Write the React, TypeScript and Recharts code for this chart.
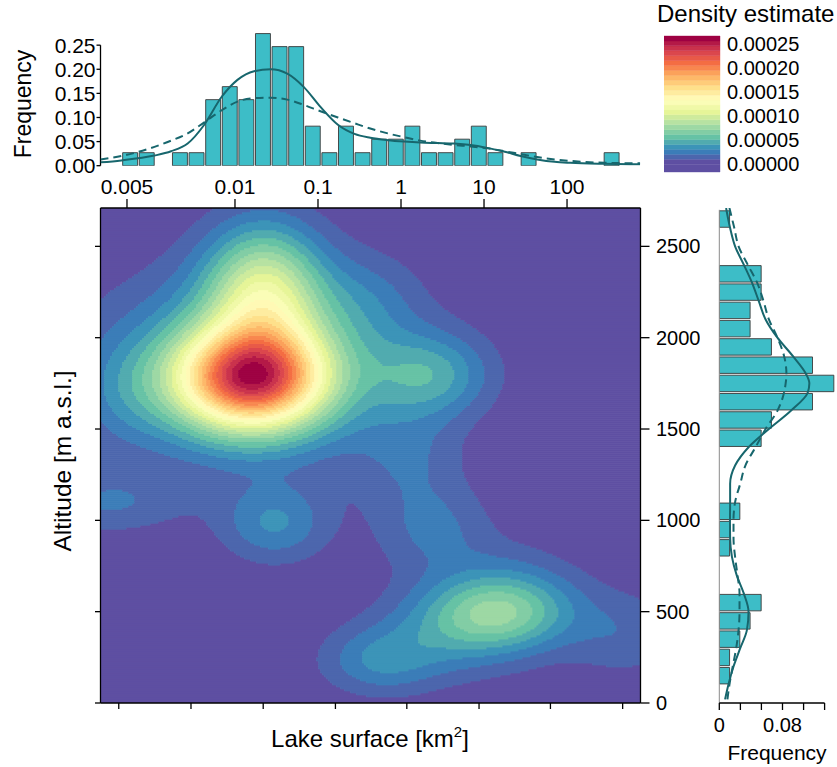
import React from 'react'
import {
  ComposedChart,
  LineChart,
  ScatterChart,
  Bar,
  Line,
  Scatter,
  XAxis,
  YAxis,
  ReferenceArea,
  ReferenceLine,
} from 'recharts'

const FONT = '"Liberation Sans", Arial, Helvetica, sans-serif'
const BAR_FILL = '#3dbdc7'
const BAR_STROKE = '#3a3a3a'
const CURVE = '#17666d'

// shared x scale: log10(lake surface, km2)
const X_MIN = -3.62
const X_MAX = 2.885
const ALT_MAX = 2710

// top histogram (log10 bin centres, frequency)
const surfaceBins = [
  -3.265, -3.065, -2.865, -2.665, -2.465, -2.265, -2.065, -1.865, -1.665, -1.465,
  -1.265, -1.065, -0.865, -0.665, -0.465, -0.265, -0.065, 0.135, 0.335, 0.535,
  0.735, 0.935, 1.135, 1.335, 1.535, 1.735, 1.935, 2.135, 2.335, 2.535,
]
const surfaceFreq = [
  0.027, 0.027, 0, 0.027, 0.027, 0.137, 0.164, 0.137, 0.274, 0.247,
  0.247, 0.082, 0.027, 0.082, 0.027, 0.055, 0.055, 0.082, 0.027, 0.027,
  0.055, 0.082, 0.027, 0, 0.027, 0, 0, 0, 0, 0.027,
]
const surfaceCurveX = [
  -3.62, -3.37, -2.97, -2.77, -2.57, -2.37, -2.16, -1.97, -1.77, -1.57,
  -1.37, -1.17, -0.97, -0.76, -0.56, -0.37, -0.16, 0.04, 0.23, 0.44,
  0.64, 0.84, 1.04, 1.25, 1.44, 1.64, 1.85, 2.04, 2.45, 2.88,
]
const surfaceKde = [
  0.007, 0.011, 0.021, 0.03, 0.046, 0.085, 0.143, 0.178, 0.196, 0.2,
  0.191, 0.163, 0.122, 0.085, 0.066, 0.058, 0.053, 0.05, 0.048, 0.047,
  0.046, 0.043, 0.037, 0.029, 0.02, 0.013, 0.008, 0.006, 0.004, 0.003,
]
const surfaceNormal = [
  0.013, 0.02, 0.039, 0.052, 0.067, 0.09, 0.115, 0.133, 0.14, 0.141,
  0.137, 0.126, 0.113, 0.1, 0.088, 0.077, 0.067, 0.059, 0.052, 0.047,
  0.043, 0.04, 0.036, 0.03, 0.024, 0.018, 0.013, 0.01, 0.006, 0.005,
]
const surfaceFreqTicks = [0, 0.05, 0.1, 0.15, 0.2, 0.25]
const surfaceTickValues = [-3.301, -2, -1, 0, 1, 2]
const surfaceTickLabels = ['0.005', '0.01', '0.1', '1', '10', '100']
const bottomTickValues = [-3.4, -2.53, -1.66, -0.79, 0.07, 0.94, 1.8, 2.67]

// right histogram (altitude bin centres, frequency)
const altitudeBins = [
  150, 250, 350, 450, 550, 650, 750, 850, 950, 1050, 1150, 1250, 1350,
  1450, 1550, 1650, 1750, 1850, 1950, 2050, 2150, 2250, 2350, 2450, 2550, 2650,
]
const altitudeFreq = [
  0.013, 0.013, 0.026, 0.039, 0.053, 0, 0, 0.013, 0.013, 0.026, 0, 0, 0,
  0.053, 0.066, 0.118, 0.145, 0.118, 0.066, 0.039, 0.039, 0.053, 0.053, 0, 0, 0.013,
]
const altitudeCurveY = [
  2710, 2600, 2500, 2400, 2300, 2200, 2100, 2000, 1900, 1800, 1750, 1700, 1600, 1500, 1400,
  1300, 1200, 1100, 1000, 900, 800, 700, 600, 500, 400, 300, 200, 100, 20,
]
const altitudeKde = [
  0.0086, 0.0137, 0.02, 0.031, 0.0415, 0.05, 0.0586, 0.0736, 0.093, 0.11, 0.114, 0.112, 0.0906, 0.0628, 0.037,
  0.02, 0.0137, 0.0137, 0.0135, 0.0137, 0.016, 0.022, 0.031, 0.037, 0.035, 0.0265, 0.018, 0.0115, 0.0073,
]
const altitudeNormal = [
  0.0128, 0.019, 0.0244, 0.036, 0.048, 0.056, 0.0628, 0.0736, 0.082, 0.085, 0.084, 0.082, 0.0736, 0.0586, 0.0458,
  0.033, 0.0265, 0.02, 0.018, 0.018, 0.02, 0.023, 0.0256, 0.0256, 0.0244, 0.0214, 0.017, 0.0128, 0.0103,
]
const altitudeTicks = [0, 500, 1000, 1500, 2000, 2500]
const altFreqTicks = [0, 0.0267, 0.0533, 0.08, 0.1067, 0.1333]

// density estimate: modes (log10 area, altitude, spread, peak)
const densityModes = [
  { x: -1.8, y: 1777, sx: 0.62, sy: 190, peak: 0.0002 },
  { x: -1.65, y: 2250, sx: 0.48, sy: 250, peak: 0.00009 },
  { x: -1.8, y: 1850, sx: 1.2, sy: 350, peak: 0.00005 },
  { x: 0.35, y: 1800, sx: 0.5, sy: 160, peak: 0.00004 },
  { x: -0.4, y: 2200, sx: 0.45, sy: 180, peak: 0.000015 },
  { x: -3.3, y: 1700, sx: 0.4, sy: 200, peak: 0.000015 },
  { x: 0.1, y: 1350, sx: 0.45, sy: 200, peak: 0.000016 },
  { x: -1.52, y: 985, sx: 0.45, sy: 150, peak: 0.00003 },
  { x: -3.55, y: 1100, sx: 0.65, sy: 120, peak: 0.00002 },
  { x: 0.4, y: 950, sx: 0.5, sy: 180, peak: 0.000021 },
  { x: 1.2, y: 500, sx: 0.6, sy: 140, peak: 0.000058 },
  { x: 0.65, y: 380, sx: 0.7, sy: 170, peak: 0.000025 },
  { x: 1.35, y: 700, sx: 0.6, sy: 150, peak: 0.000012 },
  { x: -0.25, y: 230, sx: 0.5, sy: 130, peak: 0.000028 },
  { x: 2.7, y: 380, sx: 0.5, sy: 170, peak: 0.000017 },
]
const densityTicks = [0, 0.00005, 0.0001, 0.00015, 0.0002, 0.00025]

const SPECTRAL = [
  '#5e4fa2', '#3288bd', '#66c2a5', '#abdda4', '#e6f598', '#ffffbf',
  '#fee08b', '#fdae61', '#f46d43', '#d53e4f', '#9e0142',
]
const CB_MIN = -0.0000166
const CB_MAX = 0.000266
const N_BANDS = 27
const LEVEL_MIN = -0.0000105
const LEVEL_STEP = (CB_MAX - LEVEL_MIN) / N_BANDS

function spectral(t: number) {
  const s = Math.max(0, Math.min(1, t)) * (SPECTRAL.length - 1)
  const i = Math.min(SPECTRAL.length - 2, Math.floor(s))
  const f = s - i
  const a = SPECTRAL[i]
  const b = SPECTRAL[i + 1]
  const c = [1, 3, 5].map((k) => {
    const va = parseInt(a.slice(k, k + 2), 16)
    const vb = parseInt(b.slice(k, k + 2), 16)
    return Math.round(va + (vb - va) * f)
  })
  return `rgb(${c[0]},${c[1]},${c[2]})`
}
const bandColors = Array.from({ length: N_BANDS }, (_, k) => spectral(Math.max(0, k - 1) / (N_BANDS - 2)))

function densityAt(x: number, y: number) {
  let v = 0
  for (const m of densityModes) {
    const dx = (x - m.x) / m.sx
    const dy = (y - m.y) / m.sy
    v += m.peak * Math.exp(-0.5 * (dx * dx + dy * dy))
  }
  return v
}
function bandOf(v: number) {
  return Math.max(0, Math.min(N_BANDS - 1, Math.floor((v - LEVEL_MIN) / LEVEL_STEP)))
}

// main plot geometry (px)
const PLOT_W = 540
const PLOT_H = 495
const COLS = 270
const ROWS = 248
const CELL_W = PLOT_W / COLS
const CELL_H = PLOT_H / ROWS

type Run = { x: number; y: number; n: number; band: number }
const densityRuns: Run[] = (() => {
  const out: Run[] = []
  const dx = (X_MAX - X_MIN) / COLS
  const dy = ALT_MAX / ROWS
  for (let j = 0; j < ROWS; j++) {
    const y = (j + 0.5) * dy
    let start = 0
    let prev = bandOf(densityAt(X_MIN + 0.5 * dx, y))
    for (let i = 1; i <= COLS; i++) {
      const b = i < COLS ? bandOf(densityAt(X_MIN + (i + 0.5) * dx, y)) : -1
      if (b !== prev) {
        out.push({ x: X_MIN + ((start + i) / 2) * dx, y, n: i - start, band: prev })
        start = i
        prev = b
      }
    }
  }
  return out
})()

const surfaceHist = surfaceBins.map((x, i) => ({ x, freq: surfaceFreq[i] }))
const surfaceCurve = surfaceCurveX.map((x, i) => ({ x, kde: surfaceKde[i], normal: surfaceNormal[i] }))
const altitudeHist = altitudeBins.map((alt, i) => ({ alt, freq: altitudeFreq[i] }))
const altitudeCurve = altitudeCurveY.map((alt, i) => ({ alt, kde: altitudeKde[i], normal: altitudeNormal[i] }))
const colorBands = bandColors.map((color, k) => ({
  lo: k === 0 ? CB_MIN : LEVEL_MIN + k * LEVEL_STEP,
  hi: LEVEL_MIN + (k + 1) * LEVEL_STEP,
  color,
}))

const SURF_BIN_PX = (0.2 * PLOT_W) / (X_MAX - X_MIN)
const ALT_BIN_PX = (100 * PLOT_H) / ALT_MAX

const tickFont = { fontSize: 20, fill: '#000', fontFamily: FONT }
const axisStroke = { stroke: '#000', strokeWidth: 1.3 }

function DensityCell(props: any) {
  const p = props.payload ?? props
  const w = p.n * CELL_W + 0.6
  const h = CELL_H + 0.6
  return <rect x={props.cx - w / 2} y={props.cy - h / 2} width={w} height={h} fill={bandColors[p.band]} />
}

function SurfaceHistogram() {
  return (
    <ComposedChart
      width={837}
      height={180}
      data={surfaceHist}
      margin={{ top: 30.7, right: 196.5, bottom: 14.3, left: 60.5 }}
      barCategoryGap={0}
      barGap={0}
    >
      <XAxis type="number" dataKey="x" domain={[X_MIN, X_MAX]} allowDataOverflow hide />
      <YAxis
        type="number"
        domain={[0, 0.28]}
        allowDataOverflow
        ticks={surfaceFreqTicks}
        interval={0}
        tickFormatter={(v: number) => v.toFixed(2)}
        width={40}
        tickSize={4}
        tickMargin={1}
        axisLine={false}
        tickLine={axisStroke}
        tick={{ ...tickFont, fontSize: 21 }}
      />
      <Bar dataKey="freq" fill={BAR_FILL} stroke={BAR_STROKE} strokeWidth={0.9} barSize={SURF_BIN_PX} isAnimationActive={false} />
      <ReferenceLine
        segment={[{ x: X_MIN, y: 0 }, { x: X_MIN, y: 0.25 }]}
        stroke="#000"
        strokeWidth={1.3}
        ifOverflow="visible"
      />
    </ComposedChart>
  )
}

function SurfaceCurves() {
  return (
    <LineChart width={837} height={180} data={surfaceCurve} margin={{ top: 30.7, right: 196.5, bottom: 14.3, left: 100.5 }}>
      <XAxis type="number" dataKey="x" domain={[X_MIN, X_MAX]} allowDataOverflow hide />
      <YAxis type="number" domain={[0, 0.28]} allowDataOverflow hide />
      <Line dataKey="kde" type="monotone" stroke={CURVE} strokeWidth={2} dot={false} isAnimationActive={false} />
      <Line dataKey="normal" type="monotone" stroke={CURVE} strokeWidth={2} strokeDasharray="8 5" dot={false} isAnimationActive={false} />
    </LineChart>
  )
}

function ColorBar() {
  return (
    <ComposedChart
      width={173}
      height={190}
      data={[{ x: 0, v: CB_MIN }, { x: 1, v: CB_MAX }]}
      margin={{ top: 36, right: 0, bottom: 18, left: 0 }}
    >
      <XAxis type="number" dataKey="x" domain={[0, 1]} hide />
      <YAxis
        orientation="right"
        type="number"
        domain={[CB_MIN, CB_MAX]}
        allowDataOverflow
        ticks={densityTicks}
        interval={0}
        tickFormatter={(v: number) => v.toFixed(5)}
        width={117}
        tickLine={false}
        axisLine={false}
        tickSize={5}
        tickMargin={2}
        tick={tickFont}
      />
      {colorBands.map((b, k) => (
        <ReferenceArea
          key={k}
          x1={0}
          x2={1}
          y1={b.lo}
          y2={b.hi}
          fill={b.color}
          fillOpacity={1}
          stroke={b.color}
          strokeWidth={0.4}
          ifOverflow="visible"
        />
      ))}
      <Line dataKey="v" stroke="none" dot={false} isAnimationActive={false} />
    </ComposedChart>
  )
}

function DensityMap() {
  // axes hidden here, so the margin alone places the plot area
  return (
    <ScatterChart width={700} height={767} margin={{ top: 208, right: 59.5, bottom: 64, left: 100.5 }}>
      <XAxis xAxisId="top" type="number" dataKey="x" domain={[X_MIN, X_MAX]} allowDataOverflow hide />
      <YAxis yAxisId="left" type="number" dataKey="y" domain={[0, ALT_MAX]} allowDataOverflow hide />
      <Scatter xAxisId="top" yAxisId="left" data={densityRuns} shape={DensityCell} isAnimationActive={false} />
    </ScatterChart>
  )
}

const blank = () => ''

function DensityFrame() {
  return (
    <ScatterChart width={700} height={767} margin={{ top: 173, right: 4.5, bottom: 54, left: 90.5 }}>
      <XAxis
        xAxisId="top"
        orientation="top"
        type="number"
        dataKey="x"
        domain={[X_MIN, X_MAX]}
        allowDataOverflow
        ticks={surfaceTickValues}
        interval={0}
        tickFormatter={(_v: number, i: number) => surfaceTickLabels[i]}
        height={35}
        tickSize={9}
        tickMargin={5.5}
        axisLine={axisStroke}
        tickLine={axisStroke}
        tick={{ ...tickFont, fontSize: 21 }}
      />
      <XAxis
        xAxisId="bottom"
        orientation="bottom"
        type="number"
        dataKey="x"
        domain={[X_MIN, X_MAX]}
        allowDataOverflow
        ticks={bottomTickValues}
        interval={0}
        tickFormatter={blank}
        height={10}
        tickSize={6}
        axisLine={axisStroke}
        tickLine={axisStroke}
      />
      <YAxis
        yAxisId="left"
        type="number"
        dataKey="y"
        domain={[0, ALT_MAX]}
        allowDataOverflow
        ticks={altitudeTicks}
        interval={0}
        tickFormatter={blank}
        width={10}
        tickSize={5.5}
        axisLine={axisStroke}
        tickLine={axisStroke}
      />
      <YAxis
        yAxisId="right"
        orientation="right"
        type="number"
        dataKey="y"
        domain={[0, ALT_MAX]}
        allowDataOverflow
        ticks={altitudeTicks}
        interval={0}
        width={55}
        tickSize={9}
        tickMargin={6.5}
        axisLine={axisStroke}
        tickLine={axisStroke}
        tick={tickFont}
      />
      <Scatter
        xAxisId="top"
        yAxisId="left"
        data={[{ x: X_MIN, y: 0 }, { x: X_MAX, y: ALT_MAX }]}
        shape={() => <g />}
        isAnimationActive={false}
      />
      <Scatter
        xAxisId="bottom"
        yAxisId="right"
        data={[{ x: X_MIN, y: 0 }, { x: X_MAX, y: ALT_MAX }]}
        shape={() => <g />}
        isAnimationActive={false}
      />
    </ScatterChart>
  )
}

function AltitudeHistogram() {
  return (
    <ComposedChart
      layout="vertical"
      width={137}
      height={767}
      data={altitudeHist}
      margin={{ top: 208, right: 0, bottom: 34, left: 19.3 }}
      barCategoryGap={0}
      barGap={0}
    >
      <XAxis
        type="number"
        domain={[0, 0.149]}
        allowDataOverflow
        ticks={altFreqTicks}
        interval={0}
        tickFormatter={(v: number) => (v === 0 ? '0' : Math.abs(v - 0.08) < 1e-6 ? '0.08' : '')}
        height={30}
        tickSize={7}
        tickMargin={8}
        axisLine={false}
        tickLine={axisStroke}
        tick={tickFont}
      />
      <YAxis type="number" dataKey="alt" domain={[0, ALT_MAX]} allowDataOverflow reversed hide />
      <Bar dataKey="freq" fill={BAR_FILL} stroke={BAR_STROKE} strokeWidth={0.9} barSize={ALT_BIN_PX} isAnimationActive={false} />
      <ReferenceLine segment={[{ x: 0, y: 0 }, { x: 0, y: 2700 }]} stroke="#8a8a8a" strokeWidth={1} ifOverflow="visible" />
      <ReferenceLine segment={[{ x: 0, y: 0 }, { x: 0.1333, y: 0 }]} stroke="#000" strokeWidth={1.3} ifOverflow="visible" />
    </ComposedChart>
  )
}

function AltitudeCurves() {
  return (
    <LineChart
      layout="vertical"
      width={137}
      height={767}
      data={altitudeCurve}
      margin={{ top: 208, right: 0, bottom: 64, left: 19.3 }}
    >
      <XAxis type="number" domain={[0, 0.149]} allowDataOverflow hide />
      <YAxis type="number" dataKey="alt" domain={[0, ALT_MAX]} allowDataOverflow reversed hide />
      <Line dataKey="kde" type="monotone" stroke={CURVE} strokeWidth={2} dot={false} isAnimationActive={false} />
      <Line dataKey="normal" type="monotone" stroke={CURVE} strokeWidth={2} strokeDasharray="8 5" dot={false} isAnimationActive={false} />
    </LineChart>
  )
}

const abs = (left: number, top: number): React.CSSProperties => ({ position: 'absolute', left, top })

export default function App() {
  return (
    <div style={{ position: 'absolute', left: 0, top: 0, width: 837, height: 767, background: '#fff', overflow: 'hidden' }}>
      <div style={abs(0, 0)}>
        <DensityMap />
      </div>
      <div style={abs(0, 0)}>
        <DensityFrame />
      </div>
      <div style={abs(0, 0)}>
        <SurfaceHistogram />
      </div>
      <div style={abs(0, 0)}>
        <SurfaceCurves />
      </div>
      <div style={abs(664, 0)}>
        <ColorBar />
      </div>
      <div style={abs(700, 0)}>
        <AltitudeHistogram />
      </div>
      <div style={abs(700, 0)}>
        <AltitudeCurves />
      </div>
      <svg width={837} height={767} style={{ position: 'absolute', left: 0, top: 0, pointerEvents: 'none' }} fontFamily={FONT}>
        <text x={657} y={22} fontSize={24} fill="#000">
          Density estimate
        </text>
        <text transform="translate(30.5,104) rotate(-90)" textAnchor="middle" fontSize={23} fill="#000">
          Frequency
        </text>
        <text transform="translate(71,461) rotate(-90)" textAnchor="middle" fontSize={24.5} fill="#000">
          Altitude [m a.s.l.]
        </text>
        <text x={370} y={747} textAnchor="middle" fontSize={24} fill="#000">
          Lake surface [km<tspan dy={-10} fontSize={15}>2</tspan>
          <tspan dy={10}>]</tspan>
        </text>
        <text x={777} y={760} textAnchor="middle" fontSize={21} fill="#000">
          Frequency
        </text>
      </svg>
    </div>
  )
}
